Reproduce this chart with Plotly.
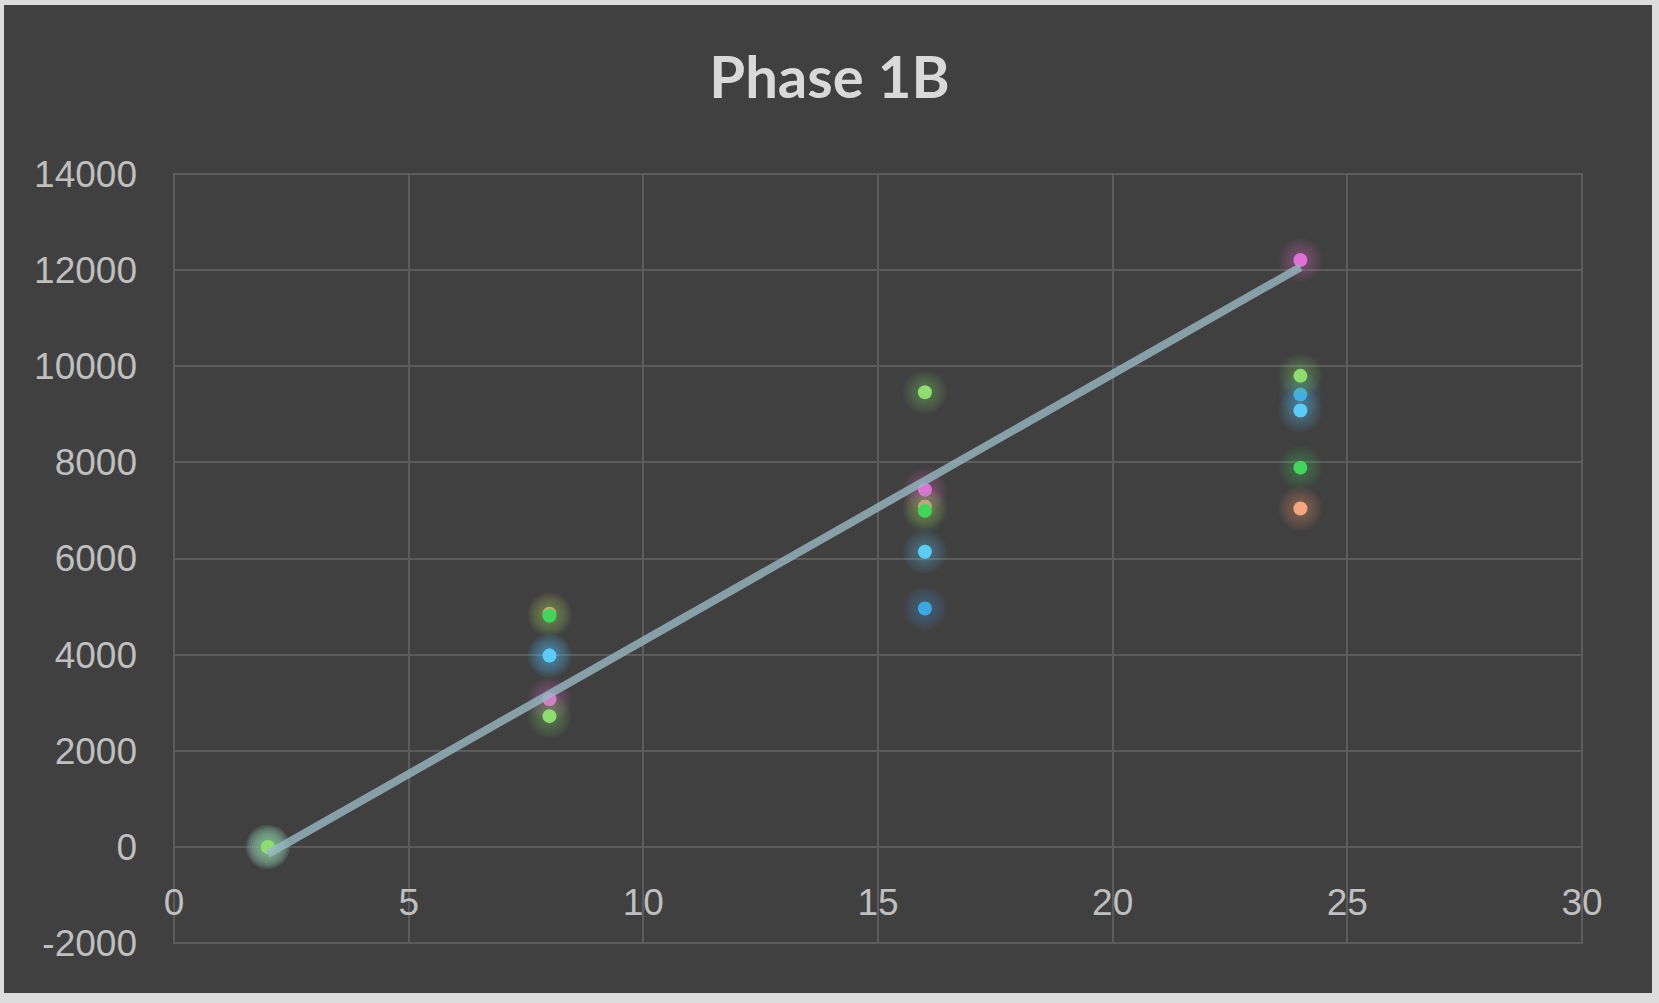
import numpy as np
import plotly.graph_objects as go

# weeks sampled
weeks = [2, 8, 16, 24]

# one list per colour series
orange = [0, 4850, 7080, 7040]
blue = [0, 3980, 4960, 9410]
cyan = [0, 3980, 6140, 9080]
pink = [0, 3070, 7430, 12210]
green = [0, 4810, 6990, 7890]
light_green = [0, 2720, 9460, 9800]

series = [
    ("Series 6", orange, "#f4a67e"),
    ("Series 5", blue, "#3ca8e0"),
    ("Series 4", cyan, "#5ccbf6"),
    ("Series 3", pink, "#e070d6"),
    ("Series 2", green, "#42d45b"),
    ("Series 1", light_green, "#8fdd70"),
]

y_ticks = list(range(-2000, 14001, 2000))
x_ticks = list(range(0, 31, 5))

W, H = 1659, 1003
L, R, T, B = 174, 77, 174, 60
pw, ph = W - L - R, H - T - B

fig = go.Figure()

for name, vals, col in series:
    # soft glow under each marker
    for sz in [44, 40, 36, 32, 28, 24, 20]:
        fig.add_trace(go.Scatter(x=weeks, y=vals, mode="markers", name=name,
                                 marker=dict(size=sz, color=col, opacity=0.045, line=dict(width=0)),
                                 showlegend=False, hoverinfo="skip"))
    fig.add_trace(go.Scatter(x=weeks, y=vals, mode="markers", name=name,
                             marker=dict(size=14, color=col, line=dict(width=0)),
                             showlegend=False))

# linear trendline of the pink series
slope, icpt = np.polyfit(weeks, pink, 1)
tx = [weeks[0], weeks[-1]]
ty = [slope * v + icpt for v in tx]
fig.add_trace(go.Scatter(x=tx, y=ty, mode="lines", name="Linear (Series 3)",
                         line=dict(color="rgba(153,184,194,0.8)", width=8),
                         showlegend=False))

# dark chart area inside a light frame
fig.add_shape(type="rect", xref="paper", yref="paper", layer="below",
              x0=(4 - L) / pw, x1=(1652 - L) / pw,
              y0=(H - B - 993) / ph, y1=(H - B - 5) / ph,
              fillcolor="#404040", line=dict(width=0))
# outer gridline box (plotly skips gridlines on the range edges)
fig.add_shape(type="rect", xref="paper", yref="paper", layer="below",
              x0=0, x1=1, y0=0, y1=1, line=dict(color="#5c5c5c", width=2))

fig.update_layout(
    width=W, height=H,
    margin=dict(l=L, r=R, t=T, b=B),
    paper_bgcolor="#dcdcdc",
    plot_bgcolor="#404040",
    title=dict(text="<b>Phase 1B</b>", x=0.5, xanchor="center",
               y=1 - 78 / H, yref="container", yanchor="middle",
               font=dict(family="Lato", size=58, color="#d9d9d9")),
    font=dict(family="Liberation Sans", size=37, color="#bfbfbf"),
)
fig.update_xaxes(range=[0, 30], tickvals=x_ticks, ticktext=[str(v) for v in x_ticks],
                 showgrid=True, gridcolor="#5c5c5c", gridwidth=2, zeroline=False,
                 showline=False, anchor="free", position=2000 / 16000, ticklabelstandoff=30)
fig.update_yaxes(range=[-2000, 14000], tickvals=y_ticks, ticktext=[str(v) for v in y_ticks],
                 showgrid=True, gridcolor="#5c5c5c", gridwidth=2, zeroline=False,
                 showline=False, ticklabelstandoff=36)

fig.write_html("out.html", config={"displayModeBar": False},
               post_script="document.body.style.margin='0';")
